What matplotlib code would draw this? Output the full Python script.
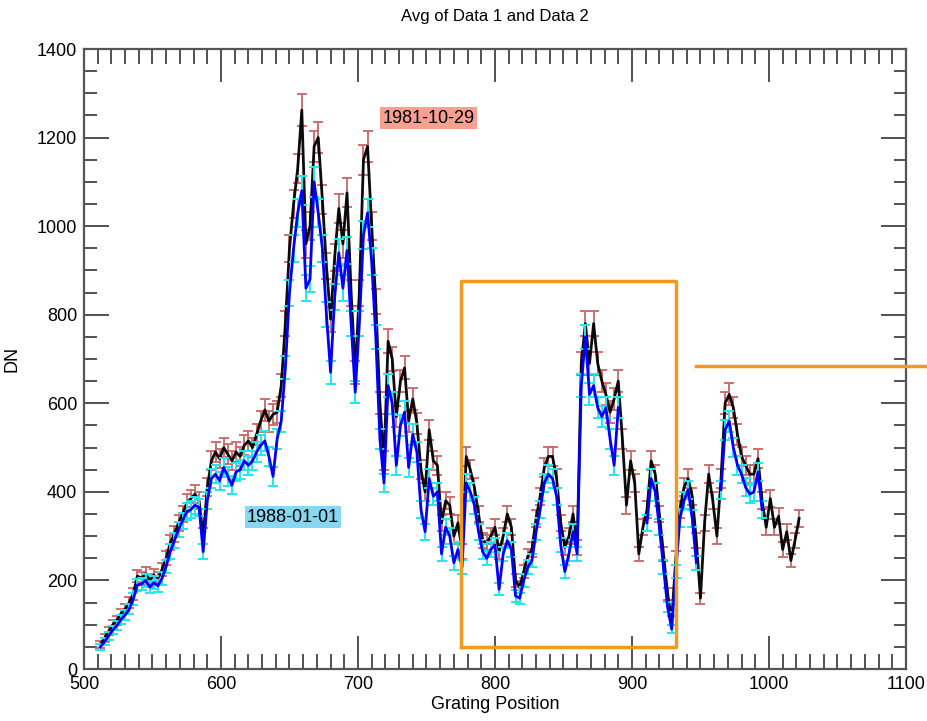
import numpy as np
import matplotlib.pyplot as plt
from matplotlib.ticker import MultipleLocator

plt.rcParams['font.family'] = ['Liberation Sans', 'DejaVu Sans']

# grating positions, every 3 steps
grating = np.arange(512, 1023, 3)

# DN, 1981-10-29 scan
dn_1981 = [
    55, 70, 85, 100, 110, 125, 135, 150, 170, 210,
    205, 215, 200, 212, 205, 225, 250, 285, 305, 330,
    350, 375, 385, 395, 380, 300, 410, 470, 490, 475,
    500, 485, 470, 490, 480, 505, 515, 500, 530, 560,
    585, 560, 575, 580, 640, 780, 950, 1050, 1130, 1262,
    960, 1000, 1180, 1200, 1060, 910, 790, 930, 1040, 960,
    1075, 850, 670, 850, 1150, 1180, 1000, 830, 600, 470,
    740, 700, 570, 650, 680, 560, 610, 555, 450, 400,
    540, 470, 460, 330, 380, 370, 300, 330, 265, 480,
    450, 410, 350, 290, 285, 300, 320, 265, 300, 350,
    320, 200, 185, 220, 255, 270, 340, 390, 455, 480,
    480, 430, 330, 275, 300, 350, 275, 690, 780, 690,
    780, 690, 650, 620, 580, 610, 650, 520, 370, 470,
    420, 260, 320, 360, 470, 440, 350, 260, 170, 110,
    250, 360, 410, 430, 390, 290, 160, 330, 440, 380,
    300, 430, 600, 620, 590, 530, 480, 460, 440, 440,
    475, 380, 320, 385, 320, 345, 270, 310, 245, 290,
    340,
]

# DN, 1988-01-01 scan (nan where the scan has no data)
nan = np.nan
dn_1988 = [
    50, 62, 75, 88, 98, 112, 122, 135, 158, 190,
    192, 200, 185, 195, 188, 205, 232, 265, 290, 315,
    335, 355, 360, 370, 365, 265, 380, 430, 440, 425,
    455, 435, 415, 445, 450, 470, 460, 470, 490, 505,
    515, 480, 435, 520, 560, 680, 850, 950, 1030, 1080,
    860, 880, 1100, 1030, 950, 800, 670, 840, 940, 860,
    945, 780, 625, 780, 980, 1030, 920, 750, 520, 420,
    640, 600, 460, 550, 580, 455, 530, 490, 360, 310,
    430, 390, 400, 260, 320, 300, 240, 270, 230, 420,
    400, 370, 310, 265, 250, 270, 280, 180, 260, 290,
    270, 165, 160, 200, 230, 245, 310, 360, 420, 440,
    430, 390, 280, 220, 260, 310, 260, 640, 750, 620,
    640, 590, 570, 590, 520, 460, 590, nan, nan, nan,
    nan, nan, nan, 330, 430, 400, 320, 230, 140, 90,
    220, 340, 380, 405, 340, 240, nan, nan, nan, nan,
    nan, 405, 540, 560, 500, 460, 440, 410, 395, 400,
    445, 360, nan, nan, nan, nan, nan, nan, nan, nan,
    nan,
]

dn_1981 = np.array(dn_1981, dtype=float)
dn_1988 = np.array(dn_1988, dtype=float)
# counting error on DN
err_1981 = np.sqrt(dn_1981)
err_1988 = np.sqrt(dn_1988)

# region of interest box and reference level
box_x = [775, 932]
box_y = [50, 876]
ref_level = 684
ref_start = 947

fig = plt.figure(figsize=(9.27, 7.21), dpi=100)
ax = fig.add_axes([0.0906, 0.0721, 0.8867, 0.8599])

ax.errorbar(grating, dn_1981, yerr=err_1981, color='black', lw=2,
            ecolor='#c96a6a', elinewidth=1.4, capsize=3.5, capthick=1.4,
            alpha=0.95, zorder=2)
ax.errorbar(grating, dn_1988, yerr=err_1988, color='#0000ff', lw=2,
            ecolor='#22e6ee', elinewidth=1.4, capsize=3.5, capthick=1.4,
            zorder=3)

ax.plot([box_x[0], box_x[1], box_x[1], box_x[0], box_x[0]],
        [box_y[0], box_y[0], box_y[1], box_y[1], box_y[0]],
        color='#f29a1c', lw=2.5, zorder=4)
ax.plot([ref_start, 1120], [ref_level, ref_level], color='#f29a1c', lw=2.5,
        clip_on=False, zorder=4)

ax.text(718, 1244, '1981-10-29', fontsize=13, va='center', ha='left',
        bbox=dict(facecolor='#f7a090', edgecolor='none', pad=1.5), zorder=5)
ax.text(619, 343, '1988-01-01', fontsize=13, va='center', ha='left',
        bbox=dict(facecolor='#86d8f2', edgecolor='none', pad=1.5), zorder=5)

ax.set_xlim(500, 1100)
ax.set_ylim(0, 1400)
ax.xaxis.set_major_locator(MultipleLocator(100))
ax.xaxis.set_minor_locator(MultipleLocator(10))
ax.yaxis.set_major_locator(MultipleLocator(200))
ax.yaxis.set_minor_locator(MultipleLocator(50))
ax.tick_params(which='both', direction='in', top=True, right=True,
               labelsize=13, color='#222222', width=1.1)
ax.tick_params(axis='x', which='major', length=24, pad=5)
ax.tick_params(axis='x', which='minor', length=11)
ax.tick_params(axis='y', which='major', length=18, pad=5)
ax.tick_params(axis='y', which='minor', length=9)
for side in ax.spines.values():
    side.set_linewidth(1.6)
    side.set_color('#555555')

ax.set_xlabel('Grating Position', fontsize=13, labelpad=2)
ax.set_ylabel('DN', fontsize=13, labelpad=12)
ax.set_title('Avg of Data 1 and Data 2', fontsize=12, pad=20)

fig.savefig('out.png', dpi=100)
